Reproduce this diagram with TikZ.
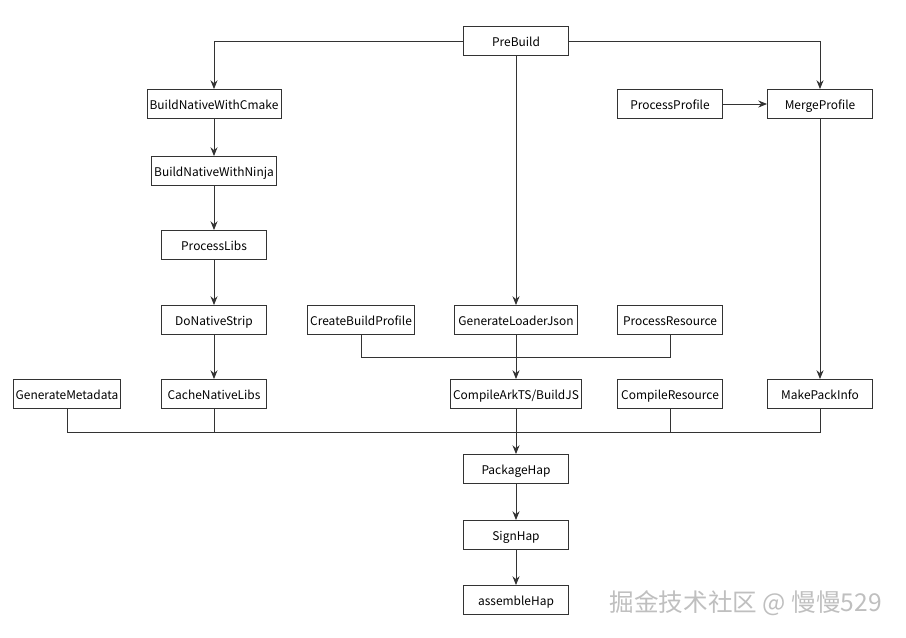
\documentclass[tikz,border=0pt]{standalone}
\usepackage{fontspec}
\setmainfont{Noto Sans CJK SC}
\usetikzlibrary{arrows.meta,positioning}
\tikzset{every picture/.style={
  >={Stealth[length=5pt,width=4pt]}   % small filled arrows
  }
}
\tikzset{
  task/.style={draw=black!80,fill=white,line width=0.5pt,minimum width=2.1cm,
    minimum height=0.58cm,inner sep=1.5pt,text height=1.5ex,text depth=.4ex,
    font=\fontsize{6.8}{8}\selectfont},
  wide/.style={task,minimum width=2.46cm},
  link/.style={draw=black!80,line width=0.5pt},
}
\begin{document}
\begin{tikzpicture}[x=0.02cm,y=-0.02cm]
  \useasboundingbox (0,0) rectangle (906,637);
  % top row
  \node[task] (prebuild) at (516,41) {PreBuild};
  \node[wide,minimum width=2.54cm] (cmake) at (214,104) {BuildNativeWithCmake};
  \node[task] (procprofile) at (670,104) {ProcessProfile};
  \node[task] (mergeprofile) at (820,104) {MergeProfile};
  % native chain
  \node[wide,minimum width=2.42cm] (ninja) at (214,171) {BuildNativeWithNinja};
  \node[task] (libs) at (214,245) {ProcessLibs};
  \node[task] (strip) at (214,320) {DoNativeStrip};
  \node[task] (buildprofile) at (361,320) {CreateBuildProfile};
  \node[wide] (loaderjson) at (516,320) {GenerateLoaderJson};
  \node[task] (procres) at (670,320) {ProcessResource};
  % compile row
  \node[task] (metadata) at (67,394) {GenerateMetadata};
  \node[task] (cachelibs) at (214,394) {CacheNativeLibs};
  \node[wide] (compilets) at (516,394) {CompileArkTS/BuildJS};
  \node[task] (compileres) at (670,394) {CompileResource};
  \node[task] (packinfo) at (820,394) {MakePackInfo};
  % packaging
  \node[task] (packagehap) at (516,469) {PackageHap};
  \node[task] (signhap) at (516,535) {SignHap};
  \node[task] (assemblehap) at (516,600) {assembleHap};
  \coordinate (join) at (516,357);
  \coordinate (bus) at (516,432);

  \draw[link,->] (prebuild.west) -| (cmake.north);
  \draw[link,->] (prebuild.east) -| (mergeprofile.north);
  \draw[link,->] (prebuild) -- (loaderjson);
  \draw[link,->] (procprofile) -- (mergeprofile);
  \draw[link,->] (cmake) -- (ninja);
  \draw[link,->] (ninja) -- (libs);
  \draw[link,->] (libs) -- (strip);
  \draw[link,->] (strip) -- (cachelibs);
  \draw[link,->] (mergeprofile) -- (packinfo);
  \draw[link] (buildprofile.south) |- (join) -| (procres.south);
  \draw[link,->] (loaderjson) -- (compilets);
  \draw[link] (metadata.south) |- (bus) -| (packinfo.south);
  \draw[link] (cachelibs.south) -- (cachelibs.south |- bus);
  \draw[link] (compileres.south) -- (compileres.south |- bus);
  \draw[link,->] (compilets) -- (packagehap);
  \draw[link,->] (packagehap) -- (signhap);
  \draw[link,->] (signhap) -- (assemblehap);

  \node[font=\fontsize{14}{16}\selectfont,text=black!25,anchor=east] (mark) at (888,603) {掘金技术社区 @ 慢慢529};
\end{tikzpicture}
\end{document}
